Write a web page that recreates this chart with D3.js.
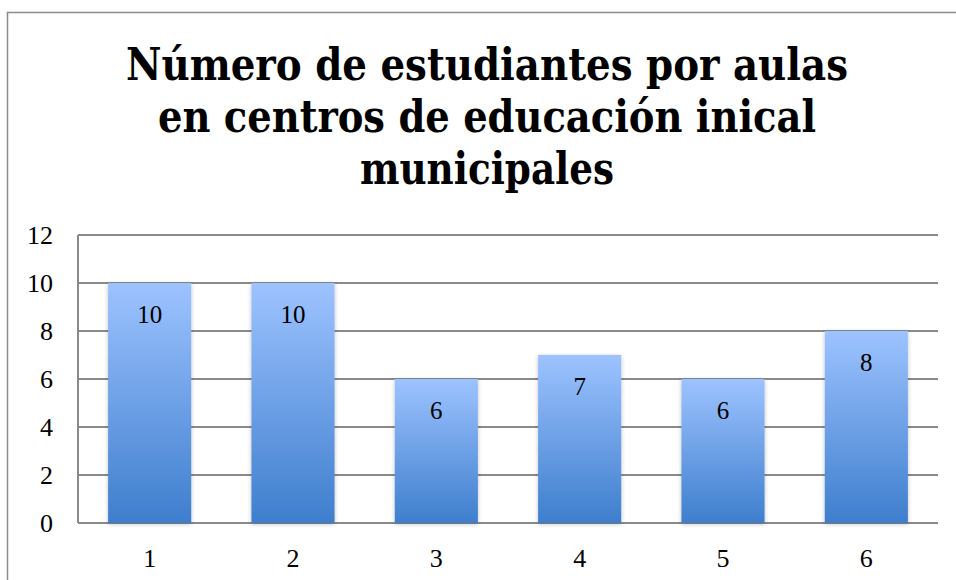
<!DOCTYPE html>
<html>
<head>
<meta charset="utf-8">
<script src="https://cdn.jsdelivr.net/npm/d3@7"></script>
<style>
  body { margin: 0; background: #fff; }
  svg { display: block; }
</style>
</head>
<body>
<div id="chart"></div>
<script>
// data
var categories = ["1", "2", "3", "4", "5", "6"];
var values = [10, 10, 6, 7, 6, 8];
var yTicks = [0, 2, 4, 6, 8, 10, 12];
var titleLines = ["Número de estudiantes por aulas", "en centros de educación inical", "municipales"];

var W = 956, H = 580;
var margin = { top: 235, right: 18, bottom: 57, left: 78 };
var width = W - margin.left - margin.right,
    height = H - margin.top - margin.bottom;

var labelFont = "'Liberation Serif', 'Times New Roman', serif";

var svg = d3.select("#chart").append("svg")
  .attr("width", W)
  .attr("height", H);

// gradient + shadow
var defs = svg.append("defs");
var grad = defs.append("linearGradient")
  .attr("id", "barGrad")
  .attr("x1", 0).attr("y1", 0).attr("x2", 0).attr("y2", 1);
grad.append("stop").attr("offset", "0%").attr("stop-color", "#9dc3ff");
grad.append("stop").attr("offset", "100%").attr("stop-color", "#3e7ecd");

var shadow = defs.append("filter").attr("id", "shadow")
  .attr("x", "-10%").attr("y", "-5%").attr("width", "120%").attr("height", "110%");
shadow.append("feDropShadow")
  .attr("dx", 0).attr("dy", 1).attr("stdDeviation", 2)
  .attr("flood-color", "#000").attr("flood-opacity", 0.25);

// chart frame
svg.append("rect")
  .attr("x", 7.5).attr("y", 12.5)
  .attr("width", W + 10).attr("height", H + 10)
  .attr("fill", "none")
  .attr("stroke", "#8c8c8c")
  .attr("stroke-width", 1.5);

// title
var title = svg.append("text")
  .attr("text-anchor", "middle")
  .style("font-family", "'DejaVu Serif Condensed', 'DejaVu Serif', serif")
  .style("font-stretch", "condensed")
  .style("font-weight", "bold")
  .style("font-size", "45px")
  .attr("fill", "#000");
var titleWidths = [722, 658, 254];
titleLines.forEach(function(t, i) {
  title.append("tspan")
    .attr("x", 487)
    .attr("y", 80 + i * 52)
    .attr("textLength", titleWidths[i])
    .attr("lengthAdjust", "spacingAndGlyphs")
    .text(t);
});

var g = svg.append("g")
  .attr("transform", "translate(" + margin.left + "," + margin.top + ")");

var x = d3.scaleBand()
  .domain(categories)
  .range([0, width])
  .paddingInner(0.42)
  .paddingOuter(0.21);

var y = d3.scaleLinear()
  .domain([0, 12])
  .range([height, 0]);

// gridlines
g.append("g")
  .selectAll("line")
  .data(yTicks)
  .join("line")
    .attr("x1", 0).attr("x2", width)
    .attr("y1", function(d) { return y(d); })
    .attr("y2", function(d) { return y(d); })
    .attr("stroke", "#8a8a8a")
    .attr("stroke-width", 2);

// left axis line
g.append("line")
  .attr("x1", 0).attr("x2", 0)
  .attr("y1", y(12)).attr("y2", y(0))
  .attr("stroke", "#8a8a8a")
  .attr("stroke-width", 2);

// y axis labels
var yAxis = g.append("g")
  .call(d3.axisLeft(y).tickValues(yTicks).tickSize(0).tickPadding(25));
yAxis.select(".domain").remove();
yAxis.selectAll("text")
  .style("font-family", labelFont)
  .style("font-size", "26px")
  .attr("fill", "#000");

// x axis labels
var xAxis = g.append("g")
  .attr("transform", "translate(0," + height + ")")
  .call(d3.axisBottom(x).tickSize(0).tickPadding(0));
xAxis.select(".domain").remove();
xAxis.selectAll("text")
  .attr("dy", null)
  .attr("y", 44)
  .style("font-family", labelFont)
  .style("font-size", "26px")
  .attr("fill", "#000");

// bars
g.append("g")
  .selectAll("rect")
  .data(values)
  .join("rect")
    .attr("x", function(d, i) { return x(categories[i]); })
    .attr("y", function(d) { return y(d); })
    .attr("width", x.bandwidth())
    .attr("height", function(d) { return height - y(d); })
    .attr("fill", "url(#barGrad)")
    .attr("filter", "url(#shadow)");

// value labels
g.append("g")
  .selectAll("text")
  .data(values)
  .join("text")
    .attr("x", function(d, i) { return x(categories[i]) + x.bandwidth() / 2; })
    .attr("y", function(d) { return y(d) + 40; })
    .attr("text-anchor", "middle")
    .style("font-family", labelFont)
    .style("font-size", "25px")
    .attr("fill", "#000")
    .text(function(d) { return d; });
</script>
</body>
</html>
